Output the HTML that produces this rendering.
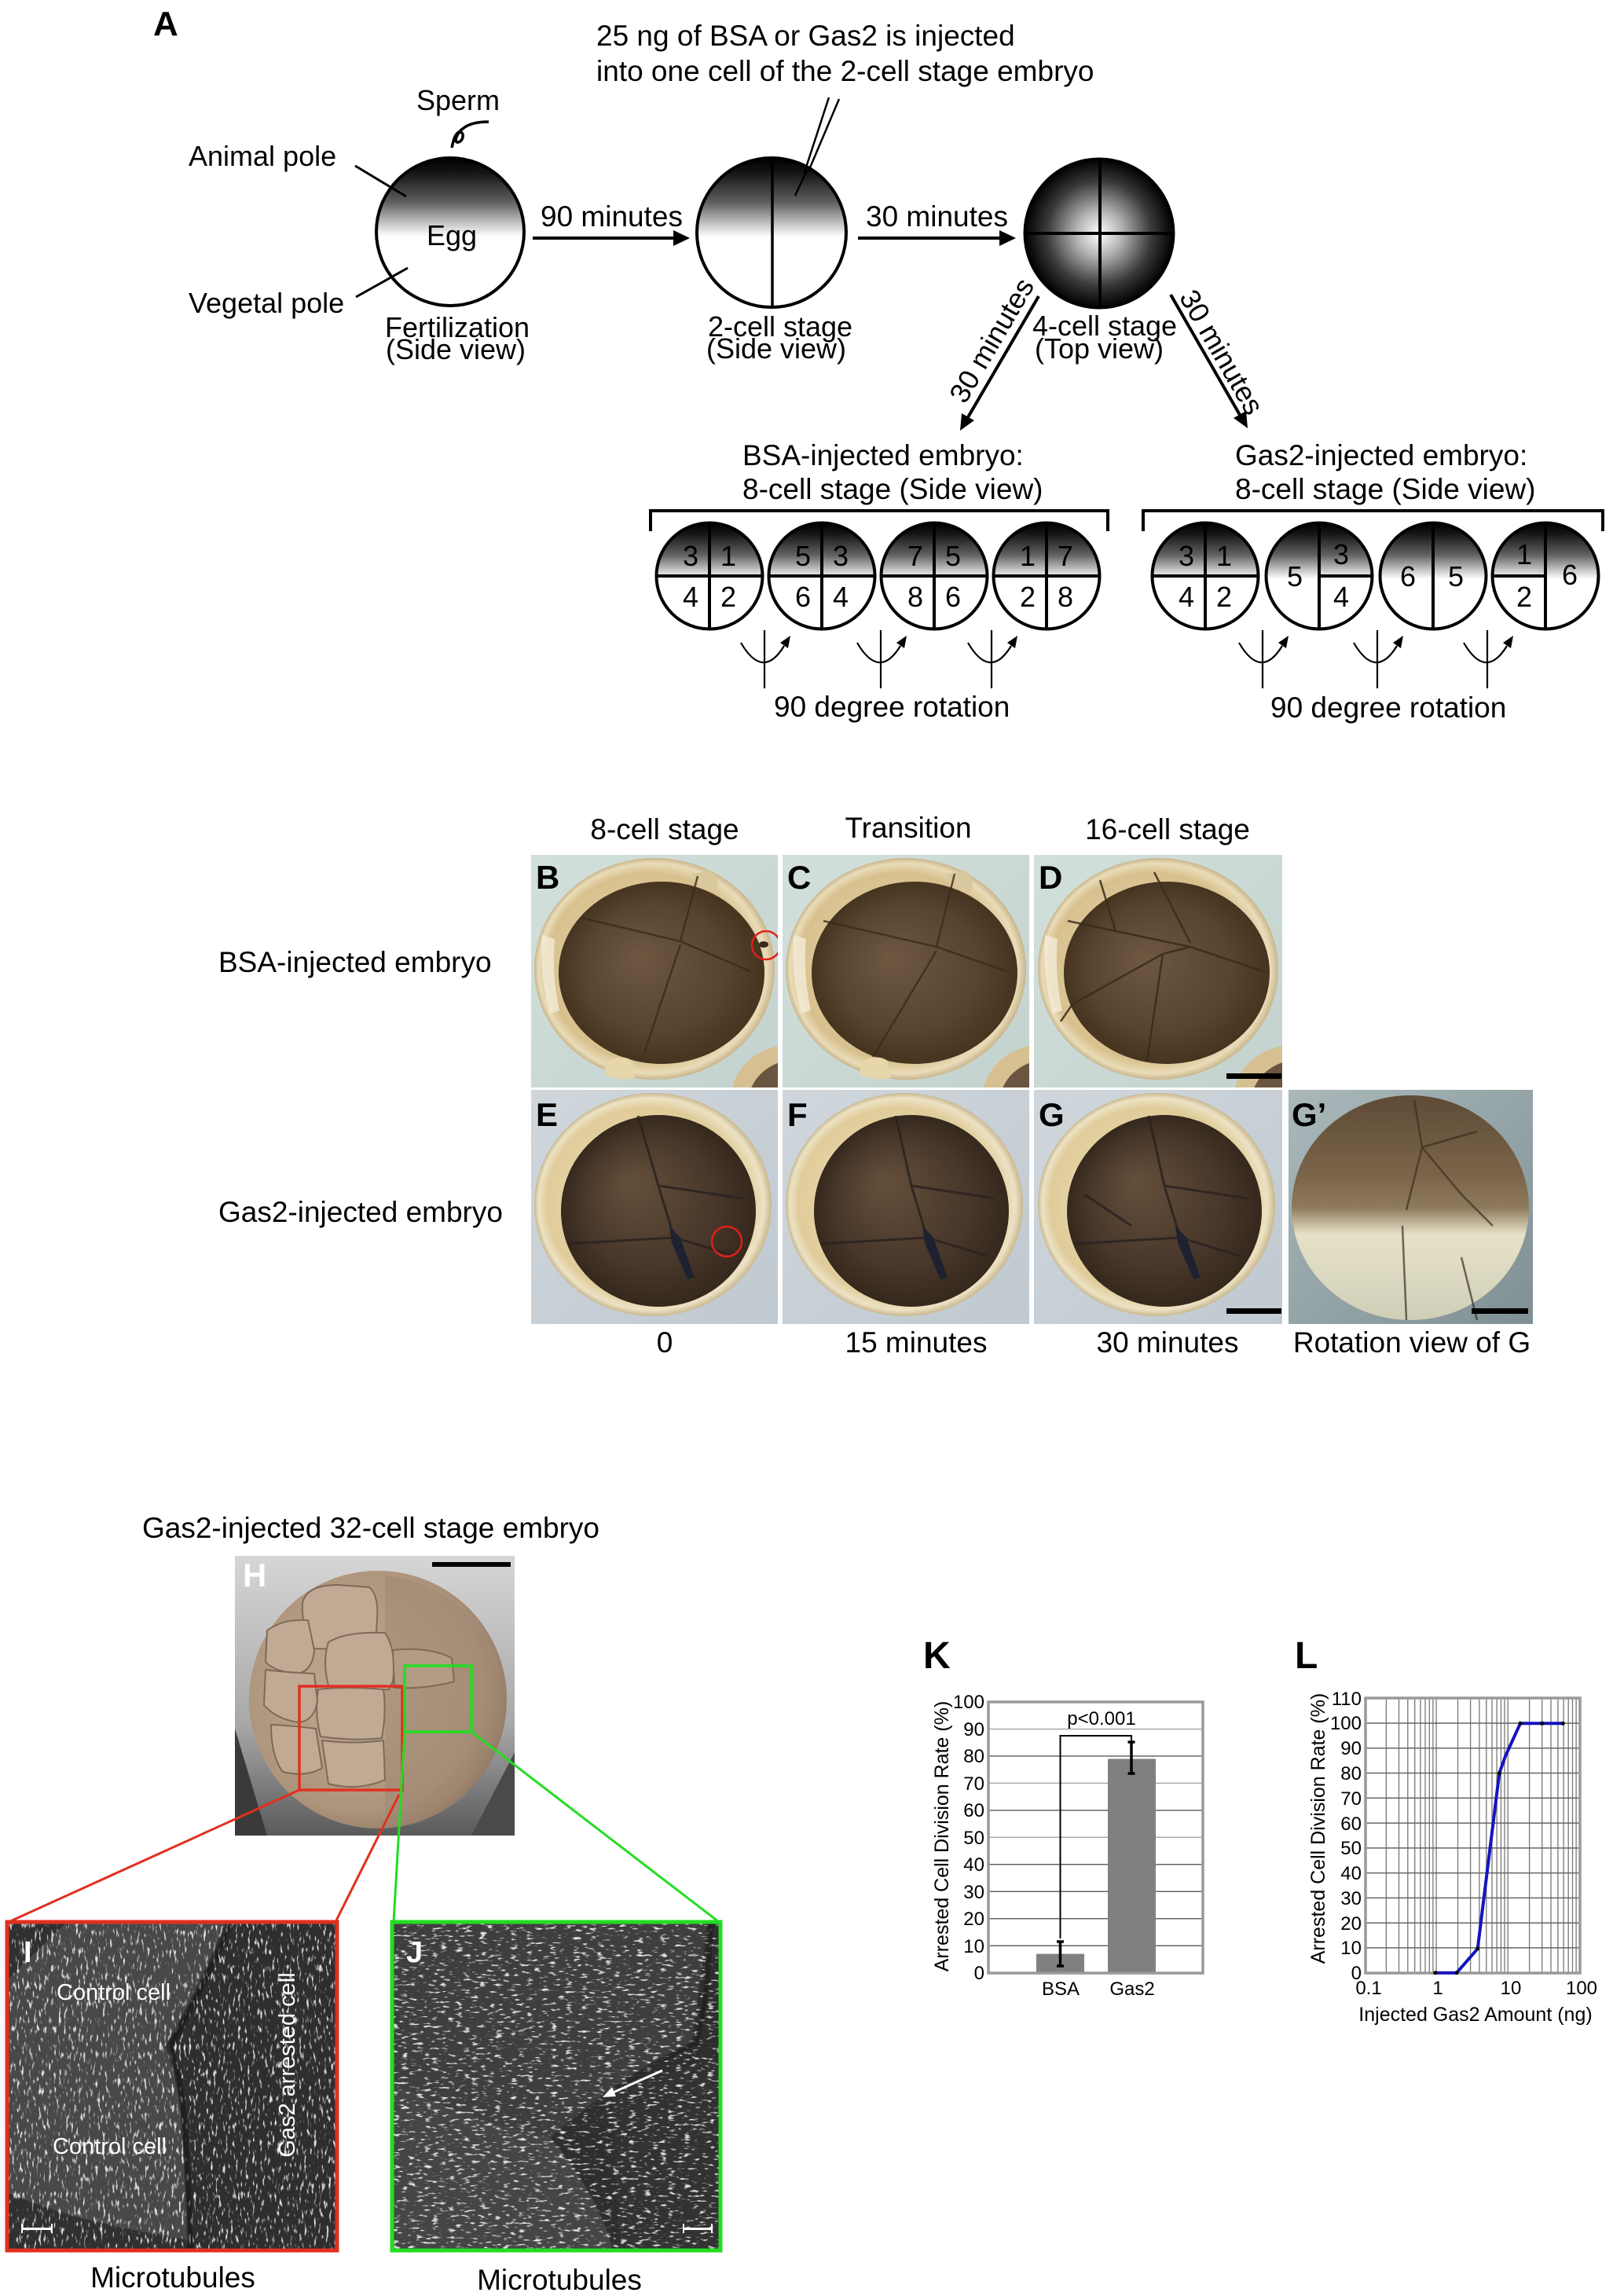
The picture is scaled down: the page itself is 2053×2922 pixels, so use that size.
<!DOCTYPE html>
<html><head><meta charset="utf-8"><style>
html,body{margin:0;padding:0;background:#fff;}
body{width:2053px;height:2922px;overflow:hidden;}
svg{display:block;}
</style></head><body>
<svg width="2053" height="2922" viewBox="0 0 2053 2922" xmlns="http://www.w3.org/2000/svg" font-family="'Liberation Sans', Arial, sans-serif">
<defs>
<linearGradient id="gTop" x1="0" y1="0" x2="0" y2="1">
<stop offset="0" stop-color="#000"/><stop offset="0.1" stop-color="#151515"/><stop offset="0.3" stop-color="#606060"/><stop offset="0.45" stop-color="#cacaca"/><stop offset="0.53" stop-color="#fff"/><stop offset="1" stop-color="#fff"/>
</linearGradient>
<radialGradient id="g4" cx="0.5" cy="0.5" r="0.5">
<stop offset="0" stop-color="#fff"/><stop offset="0.3" stop-color="#b5b5b5"/><stop offset="0.7" stop-color="#3a3a3a"/><stop offset="1" stop-color="#000"/>
</radialGradient>
<radialGradient id="rim" cx="0.5" cy="0.5" r="0.5" fx="0.35" fy="0.45">
<stop offset="0" stop-color="#e8d8ae"/><stop offset="0.85" stop-color="#d8c08e"/><stop offset="0.95" stop-color="#e9dcb8"/><stop offset="1" stop-color="#c9b58c"/>
</radialGradient>
<radialGradient id="rimE" cx="0.5" cy="0.5" r="0.5" fx="0.35" fy="0.45">
<stop offset="0" stop-color="#efe2b8"/><stop offset="0.85" stop-color="#e0cc9a"/><stop offset="0.95" stop-color="#ece2c4"/><stop offset="1" stop-color="#c9b890"/>
</radialGradient>
<radialGradient id="darkB" cx="0.5" cy="0.5" r="0.5" fx="0.38" fy="0.42">
<stop offset="0" stop-color="#6e5842"/><stop offset="0.7" stop-color="#574330"/><stop offset="1" stop-color="#46341f"/>
</radialGradient>
<radialGradient id="darkE" cx="0.5" cy="0.5" r="0.5" fx="0.35" fy="0.35">
<stop offset="0" stop-color="#65503b"/><stop offset="0.7" stop-color="#47362a"/><stop offset="1" stop-color="#35281c"/>
</radialGradient>
<linearGradient id="bgB" x1="0" y1="0" x2="1" y2="1"><stop offset="0" stop-color="#d2e0dc"/><stop offset="1" stop-color="#c3d2ce"/></linearGradient>
<linearGradient id="bgE" x1="0" y1="0" x2="1" y2="1"><stop offset="0" stop-color="#cfd7dd"/><stop offset="1" stop-color="#c0c9cf"/></linearGradient>
<linearGradient id="gGp" x1="0" y1="0" x2="0" y2="1">
<stop offset="0" stop-color="#5e4b36"/><stop offset="0.35" stop-color="#7a6449"/><stop offset="0.5" stop-color="#8e7a5c"/><stop offset="0.62" stop-color="#e6e2c8"/><stop offset="1" stop-color="#cfcfb8"/>
</linearGradient>
<linearGradient id="bgGp" x1="0" y1="0" x2="1" y2="1"><stop offset="0" stop-color="#aab8ba"/><stop offset="1" stop-color="#7f9094"/></linearGradient>
<linearGradient id="bgH" x1="0" y1="0" x2="0" y2="1"><stop offset="0" stop-color="#d6d6d6"/><stop offset="0.6" stop-color="#a8a8a8"/><stop offset="1" stop-color="#5a5a5a"/></linearGradient>
<radialGradient id="embH" cx="0.42" cy="0.45" r="0.6"><stop offset="0" stop-color="#bfa98f"/><stop offset="0.8" stop-color="#ad947c"/><stop offset="1" stop-color="#937b66"/></radialGradient>
<filter id="tex" x="0" y="0" width="1" height="1">
<feTurbulence type="fractalNoise" baseFrequency="0.32 0.09" numOctaves="2" seed="7" result="n"/>
<feColorMatrix in="n" type="matrix" values="0 0 0 0 1  0 0 0 0 1  0 0 0 0 1  6 0 0 0 -3.5"/>
</filter>
<filter id="tex2" x="0" y="0" width="1" height="1">
<feTurbulence type="fractalNoise" baseFrequency="0.1 0.32" numOctaves="2" seed="13" result="n"/>
<feColorMatrix in="n" type="matrix" values="0 0 0 0 1  0 0 0 0 1  0 0 0 0 1  6 0 0 0 -3.5"/>
</filter>
<clipPath id="cB"><rect x="676" y="1088" width="314" height="296"/></clipPath>
<clipPath id="cC"><rect x="996" y="1088" width="314" height="296"/></clipPath>
<clipPath id="cD"><rect x="1316" y="1088" width="316" height="296"/></clipPath>
<clipPath id="cE"><rect x="676" y="1387" width="314" height="298"/></clipPath>
<clipPath id="cF"><rect x="996" y="1387" width="314" height="298"/></clipPath>
<clipPath id="cG"><rect x="1316" y="1387" width="316" height="298"/></clipPath>
<clipPath id="cGp"><rect x="1640" y="1387" width="311" height="298"/></clipPath>
<clipPath id="cH"><rect x="299" y="1980" width="356" height="356"/></clipPath>
<clipPath id="cI"><rect x="9" y="2446" width="420" height="418"/></clipPath>
<clipPath id="cJ"><rect x="499" y="2446" width="418" height="418"/></clipPath>
</defs>

<rect x="0" y="0" width="2053" height="2922" fill="#fff"/>

<!-- ================= PANEL A ================= -->
<text x="195" y="45" font-size="44" font-weight="bold">A</text>
<text x="759" y="58" font-size="37">25 ng of BSA or Gas2 is injected</text>
<text x="759" y="103" font-size="37">into one cell of the 2-cell stage embryo</text>
<text x="530" y="140" font-size="36">Sperm</text>
<path d="M622,155 Q600,155 590,163 C581,169 577,182 583,181 C590,180 592,167 584,168 C578,172 577,180 575,188" fill="none" stroke="#000" stroke-width="3.5"/>
<text x="240" y="211" font-size="36">Animal pole</text>
<text x="240" y="398" font-size="36">Vegetal pole</text>

<!-- Egg -->
<circle cx="573" cy="295" r="94" fill="url(#gTop)" stroke="#000" stroke-width="4"/>
<line x1="452" y1="211" x2="517" y2="250" stroke="#000" stroke-width="3"/>
<line x1="453" y1="378" x2="519" y2="341" stroke="#000" stroke-width="3"/>
<text x="575" y="312" font-size="36" text-anchor="middle">Egg</text>
<text x="582" y="429" font-size="36" text-anchor="middle">Fertilization</text>
<text x="580" y="457" font-size="36" text-anchor="middle">(Side view)</text>

<!-- arrow 1 -->
<line x1="678" y1="303" x2="860" y2="303" stroke="#000" stroke-width="4"/>
<polygon points="878,303 857,293 857,313" fill="#000"/>
<text x="688" y="288" font-size="37">90 minutes</text>

<!-- 2-cell -->
<circle cx="982" cy="296" r="95" fill="url(#gTop)" stroke="#000" stroke-width="4"/>
<line x1="983" y1="201" x2="983" y2="391" stroke="#000" stroke-width="3.5"/>
<line x1="1055" y1="124" x2="1024" y2="219" stroke="#000" stroke-width="2.5"/>
<line x1="1068" y1="126" x2="1029" y2="218" stroke="#000" stroke-width="2.5"/>
<line x1="1027" y1="217" x2="1012" y2="249" stroke="#000" stroke-width="2.5"/>
<text x="993" y="428" font-size="36" text-anchor="middle">2-cell stage</text>
<text x="988" y="456" font-size="36" text-anchor="middle">(Side view)</text>

<!-- arrow 2 -->
<line x1="1092" y1="303" x2="1275" y2="303" stroke="#000" stroke-width="4"/>
<polygon points="1293,303 1272,293 1272,313" fill="#000"/>
<text x="1102" y="288" font-size="37">30 minutes</text>

<!-- 4-cell -->
<circle cx="1399" cy="297" r="95" fill="url(#g4)" stroke="#000" stroke-width="3"/>
<line x1="1400" y1="202" x2="1400" y2="392" stroke="#000" stroke-width="4"/>
<line x1="1304" y1="297" x2="1494" y2="297" stroke="#000" stroke-width="4"/>
<text x="1406" y="427" font-size="36" text-anchor="middle">4-cell stage</text>
<text x="1399" y="456" font-size="36" text-anchor="middle">(Top view)</text>

<!-- diagonal arrows -->
<line x1="1322" y1="377" x2="1232" y2="531" stroke="#000" stroke-width="4"/>
<polygon points="1222,548 1240,535 1224,526" fill="#000"/>
<text transform="translate(1262,433) rotate(-59.7)" font-size="36" text-anchor="middle" dominant-baseline="central">30 minutes</text>
<line x1="1490" y1="375" x2="1578" y2="528" stroke="#000" stroke-width="4"/>
<polygon points="1588,545 1586,523 1570,532" fill="#000"/>
<text transform="translate(1555,448) rotate(60)" font-size="36" text-anchor="middle" dominant-baseline="central">30 minutes</text>

<!-- 8-cell headings -->
<text x="945" y="592" font-size="37">BSA-injected embryo:</text>
<text x="945" y="635" font-size="37">8-cell stage (Side view)</text>
<text x="1572" y="592" font-size="37">Gas2-injected embryo:</text>
<text x="1572" y="635" font-size="37">8-cell stage (Side view)</text>
<path d="M828,676 V650 H1410 V676" fill="none" stroke="#000" stroke-width="4"/>
<path d="M1455,676 V650 H2040 V676" fill="none" stroke="#000" stroke-width="4"/>

<!-- BSA circles -->
<g stroke="#000" stroke-width="4">
<circle cx="903" cy="733" r="67.5" fill="url(#gTop)"/>
<circle cx="1046" cy="733" r="67.5" fill="url(#gTop)"/>
<circle cx="1189" cy="733" r="67.5" fill="url(#gTop)"/>
<circle cx="1332" cy="733" r="67.5" fill="url(#gTop)"/>
<line x1="903" y1="665" x2="903" y2="801"/><line x1="835" y1="733" x2="971" y2="733"/>
<line x1="1046" y1="665" x2="1046" y2="801"/><line x1="978" y1="733" x2="1114" y2="733"/>
<line x1="1189" y1="665" x2="1189" y2="801"/><line x1="1121" y1="733" x2="1257" y2="733"/>
<line x1="1332" y1="665" x2="1332" y2="801"/><line x1="1264" y1="733" x2="1400" y2="733"/>
</g>
<g font-size="36" text-anchor="middle">
<text x="879" y="720">3</text><text x="927" y="720">1</text><text x="879" y="772">4</text><text x="927" y="772">2</text>
<text x="1022" y="720">5</text><text x="1070" y="720">3</text><text x="1022" y="772">6</text><text x="1070" y="772">4</text>
<text x="1165" y="720">7</text><text x="1213" y="720">5</text><text x="1165" y="772">8</text><text x="1213" y="772">6</text>
<text x="1308" y="720">1</text><text x="1356" y="720">7</text><text x="1308" y="772">2</text><text x="1356" y="772">8</text>
</g>

<!-- Gas2 circles -->
<g stroke="#000" stroke-width="4">
<circle cx="1534" cy="733" r="67.5" fill="url(#gTop)"/>
<circle cx="1679" cy="733" r="67.5" fill="url(#gTop)"/>
<circle cx="1824" cy="733" r="67.5" fill="url(#gTop)"/>
<circle cx="1967" cy="733" r="67.5" fill="url(#gTop)"/>
<line x1="1534" y1="665" x2="1534" y2="801"/><line x1="1466" y1="733" x2="1602" y2="733"/>
<line x1="1679" y1="665" x2="1679" y2="801"/><line x1="1679" y1="733" x2="1747" y2="733"/>
<line x1="1824" y1="665" x2="1824" y2="801"/>
<line x1="1967" y1="665" x2="1967" y2="801"/><line x1="1899" y1="733" x2="1967" y2="733"/>
</g>
<g font-size="36" text-anchor="middle">
<text x="1510" y="720">3</text><text x="1558" y="720">1</text><text x="1510" y="772">4</text><text x="1558" y="772">2</text>
<text x="1648" y="746">5</text><text x="1707" y="718">3</text><text x="1707" y="772">4</text>
<text x="1792" y="746">6</text><text x="1853" y="746">5</text>
<text x="1940" y="718">1</text><text x="1940" y="772">2</text><text x="1998" y="744">6</text>
</g>

<!-- rotation symbols -->
<g fill="none" stroke="#000" stroke-width="2.2">
<path d="M973,802 V876 M943,818 Q971,866 998,822"/>
<path d="M1121,802 V876 M1091,818 Q1119,866 1146,822"/>
<path d="M1262,802 V876 M1232,818 Q1260,866 1287,822"/>
<path d="M1607,802 V876 M1577,818 Q1605,866 1632,822"/>
<path d="M1753,802 V876 M1723,818 Q1751,866 1778,822"/>
<path d="M1893,802 V876 M1863,818 Q1891,866 1918,822"/>
</g>
<g fill="#000">
<polygon points="1006,809 1003,825 993,818"/>
<polygon points="1154,809 1151,825 1141,818"/>
<polygon points="1295,809 1292,825 1282,818"/>
<polygon points="1640,809 1637,825 1627,818"/>
<polygon points="1786,809 1783,825 1773,818"/>
<polygon points="1926,809 1923,825 1913,818"/>
</g>
<text x="985" y="912" font-size="37">90 degree rotation</text>
<text x="1617" y="913" font-size="37">90 degree rotation</text>

<!-- ================= PHOTOS B-G' ================= -->
<text x="846" y="1068" font-size="37" text-anchor="middle">8-cell stage</text>
<text x="1156" y="1066" font-size="37" text-anchor="middle">Transition</text>
<text x="1486" y="1068" font-size="37" text-anchor="middle">16-cell stage</text>
<text x="278" y="1237" font-size="37">BSA-injected embryo</text>
<text x="278" y="1555" font-size="37">Gas2-injected embryo</text>

<!-- B -->
<g clip-path="url(#cB)">
<rect x="676" y="1088" width="314" height="296" fill="url(#bgB)"/>
<ellipse cx="1005" cy="1400" rx="75" ry="70" fill="#d6c092"/><ellipse cx="1012" cy="1405" rx="60" ry="56" fill="#6a5540"/>
<ellipse cx="833" cy="1233" rx="153" ry="141" fill="url(#rim)"/>
<path d="M690,1190 Q686,1240 700,1290 L712,1286 Q702,1240 706,1195 Z" fill="#f3ecd8" opacity="0.8"/>
<ellipse cx="842" cy="1238" rx="131" ry="116" fill="url(#darkB)"/>
<path d="M880,1112 L905,1108 Q918,1120 912,1135 L890,1130 Z" fill="#d9c89e"/>
<path d="M770,1352 Q790,1340 805,1350 L808,1372 Q788,1376 770,1368 Z" fill="#e6d6aa"/>
<g fill="none" stroke="#3a2a1a" stroke-width="2.5" opacity="0.8">
<path d="M888,1115 L866,1198 M740,1168 L866,1198 L955,1236 M866,1202 L820,1340"/>
</g>
<circle cx="975" cy="1203" r="18" fill="none" stroke="#e0201a" stroke-width="2.5"/>
<ellipse cx="972" cy="1202" rx="6" ry="4" fill="#3a2a1c"/>
</g>
<text x="682" y="1131" font-size="42" font-weight="bold">B</text>

<!-- C -->
<g clip-path="url(#cC)">
<rect x="996" y="1088" width="314" height="296" fill="url(#bgB)"/>
<ellipse cx="1325" cy="1400" rx="75" ry="70" fill="#d6c092"/><ellipse cx="1332" cy="1405" rx="60" ry="56" fill="#6a5540"/>
<ellipse cx="1153" cy="1233" rx="153" ry="141" fill="url(#rim)"/>
<path d="M1010,1190 Q1006,1240 1020,1290 L1032,1286 Q1022,1240 1026,1195 Z" fill="#f3ecd8" opacity="0.8"/>
<ellipse cx="1164" cy="1238" rx="131" ry="116" fill="url(#darkB)"/>
<path d="M1205,1112 L1230,1108 Q1242,1120 1236,1135 L1212,1130 Z" fill="#d9c89e"/>
<path d="M1095,1352 Q1115,1340 1130,1350 L1133,1372 Q1113,1376 1095,1368 Z" fill="#e6d6aa"/>
<g fill="none" stroke="#3a2a1a" stroke-width="2.5" opacity="0.8">
<path d="M1215,1112 L1192,1205 M1048,1172 L1192,1205 L1284,1237 M1192,1210 L1111,1345"/>
</g>
</g>
<text x="1002" y="1131" font-size="42" font-weight="bold">C</text>

<!-- D -->
<g clip-path="url(#cD)">
<rect x="1316" y="1088" width="316" height="296" fill="url(#bgB)"/>
<ellipse cx="1645" cy="1400" rx="75" ry="70" fill="#d6c092"/><ellipse cx="1652" cy="1405" rx="60" ry="56" fill="#6a5540"/>
<ellipse cx="1474" cy="1233" rx="153" ry="141" fill="url(#rim)"/>
<path d="M1330,1190 Q1326,1240 1340,1290 L1352,1286 Q1342,1240 1346,1195 Z" fill="#f3ecd8" opacity="0.8"/>
<ellipse cx="1485" cy="1238" rx="131" ry="116" fill="url(#darkB)"/>
<g fill="none" stroke="#3a2a1a" stroke-width="2.5" opacity="0.85">
<path d="M1469,1110 L1515,1200 M1359,1172 L1515,1205 L1610,1237 M1480,1214 L1365,1278 L1350,1300 M1515,1205 L1480,1214 L1460,1350 M1400,1120 L1420,1185"/>
</g>
<rect x="1561" y="1366" width="70" height="7" fill="#000"/>
</g>
<text x="1322" y="1131" font-size="42" font-weight="bold">D</text>

<!-- E -->
<g clip-path="url(#cE)">
<rect x="676" y="1387" width="314" height="298" fill="url(#bgE)"/>
<ellipse cx="831" cy="1533" rx="151" ry="142" fill="url(#rimE)"/>
<ellipse cx="838" cy="1541" rx="124" ry="122" fill="url(#darkE)"/>
<g fill="none" stroke="#2a2220" stroke-width="3" opacity="0.85">
<path d="M812,1420 L838,1509 L858,1575 M722,1583 L858,1575 L935,1598 M858,1575 L880,1625 M838,1509 L945,1525"/>
</g>
<path d="M852,1560 L866,1575 L884,1626 L875,1628 L855,1582 Z" fill="#1e2230"/>
<circle cx="925" cy="1580" r="19" fill="none" stroke="#e0201a" stroke-width="2.5"/>
</g>
<text x="682" y="1433" font-size="42" font-weight="bold">E</text>

<!-- F -->
<g clip-path="url(#cF)">
<rect x="996" y="1387" width="314" height="298" fill="url(#bgE)"/>
<ellipse cx="1151" cy="1533" rx="151" ry="142" fill="url(#rimE)"/>
<ellipse cx="1160" cy="1541" rx="124" ry="122" fill="url(#darkE)"/>
<g fill="none" stroke="#2a2220" stroke-width="3" opacity="0.85">
<path d="M1140,1420 L1160,1509 L1180,1575 M1045,1583 L1180,1575 L1255,1598 M1180,1575 L1200,1628 M1160,1509 L1265,1525"/>
</g>
<path d="M1174,1560 L1188,1575 L1206,1626 L1197,1628 L1177,1582 Z" fill="#1e2230"/>
</g>
<text x="1002" y="1433" font-size="42" font-weight="bold">F</text>

<!-- G -->
<g clip-path="url(#cG)">
<rect x="1316" y="1387" width="316" height="298" fill="url(#bgE)"/>
<ellipse cx="1472" cy="1533" rx="151" ry="142" fill="url(#rimE)"/>
<ellipse cx="1482" cy="1541" rx="124" ry="122" fill="url(#darkE)"/>
<g fill="none" stroke="#2a2220" stroke-width="3" opacity="0.85">
<path d="M1462,1420 L1482,1509 L1502,1575 M1367,1583 L1502,1575 L1577,1598 M1502,1575 L1522,1628 M1482,1509 L1587,1525 M1380,1520 L1440,1560"/>
</g>
<path d="M1496,1560 L1510,1575 L1528,1626 L1519,1628 L1499,1582 Z" fill="#1e2230"/>
<rect x="1561" y="1665" width="70" height="7" fill="#000"/>
</g>
<text x="1322" y="1433" font-size="42" font-weight="bold">G</text>

<!-- G' -->
<g clip-path="url(#cGp)">
<rect x="1640" y="1387" width="311" height="298" fill="url(#bgGp)"/>
<ellipse cx="1795" cy="1537" rx="151" ry="143" fill="url(#gGp)"/>
<g fill="none" stroke="#3a2e22" stroke-width="2.5" opacity="0.7">
<path d="M1800,1400 L1810,1460 L1790,1540 M1810,1460 L1880,1440 M1810,1460 L1860,1520 L1900,1560 M1785,1560 L1790,1680 M1860,1600 L1880,1680"/>
</g>
<rect x="1873" y="1665" width="72" height="7" fill="#000"/>
</g>
<text x="1644" y="1433" font-size="42" font-weight="bold">G’</text>

<text x="846" y="1721" font-size="37" text-anchor="middle">0</text>
<text x="1166" y="1721" font-size="37" text-anchor="middle">15 minutes</text>
<text x="1486" y="1721" font-size="37" text-anchor="middle">30 minutes</text>
<text x="1797" y="1721" font-size="37" text-anchor="middle">Rotation view of G</text>

<!-- ================= H I J ================= -->
<text x="181" y="1957" font-size="37">Gas2-injected 32-cell stage embryo</text>
<g clip-path="url(#cH)">
<rect x="299" y="1980" width="356" height="356" fill="url(#bgH)"/>
<path d="M299,2200 L340,2336 L299,2336 Z" fill="#3a3a3a"/>
<path d="M655,2230 L600,2336 L655,2336 Z" fill="#4a4a4a"/>
<circle cx="481" cy="2163" r="164" fill="url(#embH)"/>
<path d="M490,2005 A158,158 0 0,1 490,2320 Z" fill="#9c8570" opacity="0.45"/>
<g fill="#c1aa93" stroke="#7d6a58" stroke-width="2">
<path d="M385,2040 Q390,2017 430,2017 L470,2020 Q482,2030 480,2060 L478,2090 Q440,2100 400,2098 Q383,2070 385,2040 Z"/>
<path d="M418,2090 Q440,2076 490,2078 Q505,2100 500,2140 L495,2150 Q450,2152 418,2145 Q410,2115 418,2090 Z"/>
<path d="M405,2150 Q440,2146 488,2150 Q492,2180 486,2212 Q450,2216 408,2210 Q400,2180 405,2150 Z"/>
<path d="M340,2075 Q360,2060 392,2062 L400,2100 Q398,2125 380,2130 Q350,2128 338,2115 Z"/>
<path d="M338,2125 Q360,2128 400,2130 L404,2165 Q400,2190 380,2192 Q352,2188 336,2170 Z"/>
<path d="M345,2195 Q372,2196 402,2200 L410,2250 Q390,2262 360,2255 Q345,2235 345,2195 Z"/>
<path d="M410,2215 Q450,2220 488,2215 L490,2265 Q455,2280 418,2270 Z"/>
<path d="M500,2100 Q545,2095 575,2110 L578,2140 Q540,2150 502,2148 Z" fill="#b39c84"/>
</g>
<rect x="381" y="2146" width="131" height="132" fill="none" stroke="#e03020" stroke-width="3.5"/>
<rect x="515" y="2120" width="85" height="84" fill="none" stroke="#22dd22" stroke-width="3.5"/>
<rect x="550" y="1988" width="100" height="6" fill="#000"/>
</g>
<text x="309" y="2019" font-size="42" font-weight="bold" fill="#fff">H</text>

<!-- connector lines -->
<line x1="381" y1="2278" x2="11" y2="2446" stroke="#e03020" stroke-width="3"/>
<line x1="508" y1="2284" x2="427" y2="2446" stroke="#e03020" stroke-width="3"/>
<line x1="515" y1="2204" x2="501" y2="2446" stroke="#22dd22" stroke-width="3"/>
<line x1="600" y1="2204" x2="915" y2="2446" stroke="#22dd22" stroke-width="3"/>

<!-- I -->
<g clip-path="url(#cI)">
<rect x="9" y="2446" width="420" height="418" fill="#262626"/>
<path d="M9,2446 L292,2446 Q260,2520 215,2600 Q225,2640 230,2680 Q238,2770 240,2864 L9,2864 Z" fill="#484848"/>
<path d="M300,2446 L429,2446 L429,2864 L245,2864 Q240,2760 235,2680 Q228,2640 222,2605 Q268,2520 300,2446 Z" fill="#2e2e2e"/>
<path d="M9,2520 Q60,2470 85,2446 L9,2446 Z" fill="#303030"/>
<path d="M9,2790 Q100,2830 240,2850 L240,2864 L9,2864 Z" fill="#303030"/>
<rect x="9" y="2446" width="420" height="418" filter="url(#tex)" opacity="0.85"/>
<path d="M292,2446 Q262,2520 215,2605 Q228,2640 234,2690 Q240,2770 242,2864" fill="none" stroke="#151515" stroke-width="8" opacity="0.5"/>
<rect x="27" y="2835" width="40" height="3" fill="#fff"/>
<rect x="27" y="2830" width="2" height="12" fill="#fff"/><rect x="65" y="2830" width="2" height="12" fill="#fff"/>
</g>
<rect x="9" y="2446" width="420" height="418" fill="none" stroke="#e03020" stroke-width="5"/>
<text x="30" y="2497" font-size="38" font-weight="bold" fill="#fff">I</text>
<text x="72" y="2545" font-size="29" fill="#fff">Control cell</text>
<text x="67" y="2741" font-size="29" fill="#fff">Control cell</text>
<text transform="translate(366,2628) rotate(-90)" font-size="29" fill="#fff" text-anchor="middle" dominant-baseline="central">Gas2 arrested cell</text>

<!-- J -->
<g clip-path="url(#cJ)">
<rect x="499" y="2446" width="418" height="418" fill="#2e2e2e"/>
<path d="M499,2446 L900,2446 Q890,2540 880,2600 Q820,2640 765,2669 Q720,2700 660,2760 Q600,2790 499,2780 Z" fill="#3e3e3e"/>
<path d="M499,2650 Q600,2700 700,2720 Q760,2790 780,2864 L499,2864 Z" fill="#454545"/>
<path d="M780,2669 Q830,2640 917,2620 L917,2864 L790,2864 Q780,2760 780,2669 Z" fill="#323232"/>
<rect x="499" y="2446" width="418" height="418" filter="url(#tex2)" opacity="0.85"/>
<path d="M905,2446 Q900,2560 885,2600 Q830,2625 770,2668" fill="none" stroke="#151515" stroke-width="6" opacity="0.5"/>
<line x1="843" y1="2635" x2="778" y2="2664" stroke="#fff" stroke-width="3"/>
<polygon points="767,2669 779,2656 784,2668" fill="#fff"/>
<rect x="869" y="2835" width="38" height="3" fill="#fff"/>
<rect x="869" y="2830" width="2" height="12" fill="#fff"/><rect x="905" y="2830" width="2" height="12" fill="#fff"/>
</g>
<rect x="499" y="2446" width="418" height="418" fill="none" stroke="#22dd22" stroke-width="5"/>
<text x="517" y="2497" font-size="38" font-weight="bold" fill="#fff">J</text>

<text x="220" y="2911" font-size="37" text-anchor="middle">Microtubules</text>
<text x="712" y="2914" font-size="37" text-anchor="middle">Microtubules</text>

<!-- ================= K ================= -->
<text x="1175" y="2123" font-size="48" font-weight="bold">K</text>
<g stroke-width="1.5">
<line x1="1259" y1="2476.2" x2="1530" y2="2476.2" stroke="#666"/>
<line x1="1259" y1="2441.8" x2="1530" y2="2441.8" stroke="#666"/>
<line x1="1259" y1="2407.3" x2="1530" y2="2407.3" stroke="#666"/>
<line x1="1259" y1="2372.8" x2="1530" y2="2372.8" stroke="#666"/>
<line x1="1259" y1="2338.3" x2="1530" y2="2338.3" stroke="#aaa"/>
<line x1="1259" y1="2303.9" x2="1530" y2="2303.9" stroke="#666"/>
<line x1="1259" y1="2269.4" x2="1530" y2="2269.4" stroke="#aaa"/>
<line x1="1259" y1="2234.9" x2="1530" y2="2234.9" stroke="#666"/>
<line x1="1259" y1="2200.5" x2="1530" y2="2200.5" stroke="#aaa"/>
</g>
<rect x="1319" y="2486.6" width="61" height="24.1" fill="#808080"/>
<rect x="1410" y="2238.4" width="61" height="272.3" fill="#808080"/>
<rect x="1258" y="2166" width="273" height="345" fill="none" stroke="#999" stroke-width="3.5"/>
<path d="M1349.5,2467 V2209 H1440 V2217" fill="none" stroke="#000" stroke-width="2"/>
<g stroke="#000" stroke-width="3.5">
<line x1="1349.5" y1="2471" x2="1349.5" y2="2502"/><line x1="1345" y1="2471" x2="1354" y2="2471"/><line x1="1345" y1="2502" x2="1354" y2="2502"/>
<line x1="1440" y1="2217" x2="1440" y2="2257"/><line x1="1435.5" y1="2217" x2="1444.5" y2="2217"/><line x1="1435.5" y1="2257" x2="1444.5" y2="2257"/>
</g>
<text x="1402" y="2195" font-size="24" text-anchor="middle">p&lt;0.001</text>
<g font-size="24" text-anchor="end">
<text x="1253" y="2519">0</text><text x="1253" y="2485">10</text><text x="1253" y="2450">20</text><text x="1253" y="2416">30</text>
<text x="1253" y="2381">40</text><text x="1253" y="2347">50</text><text x="1253" y="2312">60</text><text x="1253" y="2278">70</text>
<text x="1253" y="2243">80</text><text x="1253" y="2209">90</text><text x="1253" y="2174">100</text>
</g>
<text x="1350" y="2539" font-size="24" text-anchor="middle">BSA</text>
<text x="1441" y="2539" font-size="24" text-anchor="middle">Gas2</text>
<text transform="translate(1199,2337) rotate(-90)" font-size="25" text-anchor="middle" dominant-baseline="central">Arrested Cell Division Rate (%)</text>

<!-- ================= L ================= -->
<text x="1648" y="2123" font-size="48" font-weight="bold">L</text>
<g stroke="#777" stroke-width="1.3">
<line x1="1764.4" y1="2161" x2="1764.4" y2="2511"/><line x1="1780.5" y1="2161" x2="1780.5" y2="2511"/>
<line x1="1791.8" y1="2161" x2="1791.8" y2="2511"/><line x1="1800.7" y1="2161" x2="1800.7" y2="2511"/>
<line x1="1807.9" y1="2161" x2="1807.9" y2="2511"/><line x1="1814" y1="2161" x2="1814" y2="2511"/>
<line x1="1819.3" y1="2161" x2="1819.3" y2="2511"/><line x1="1823.9" y1="2161" x2="1823.9" y2="2511"/>
<line x1="1828.1" y1="2161" x2="1828.1" y2="2511"/>
<line x1="1855.5" y1="2161" x2="1855.5" y2="2511"/><line x1="1871.6" y1="2161" x2="1871.6" y2="2511"/>
<line x1="1882.9" y1="2161" x2="1882.9" y2="2511"/><line x1="1891.8" y1="2161" x2="1891.8" y2="2511"/>
<line x1="1899" y1="2161" x2="1899" y2="2511"/><line x1="1905.1" y1="2161" x2="1905.1" y2="2511"/>
<line x1="1910.4" y1="2161" x2="1910.4" y2="2511"/><line x1="1915" y1="2161" x2="1915" y2="2511"/>
<line x1="1919.2" y1="2161" x2="1919.2" y2="2511"/>
<line x1="1946.6" y1="2161" x2="1946.6" y2="2511"/><line x1="1962.7" y1="2161" x2="1962.7" y2="2511"/>
<line x1="1974" y1="2161" x2="1974" y2="2511"/><line x1="1982.9" y1="2161" x2="1982.9" y2="2511"/>
<line x1="1990.1" y1="2161" x2="1990.1" y2="2511"/><line x1="1996.2" y1="2161" x2="1996.2" y2="2511"/>
<line x1="2001.5" y1="2161" x2="2001.5" y2="2511"/><line x1="2006.1" y1="2161" x2="2006.1" y2="2511"/>
</g>
<g stroke="#666" stroke-width="1.5">
<line x1="1737" y1="2478.9" x2="2011" y2="2478.9"/><line x1="1737" y1="2447.2" x2="2011" y2="2447.2"/>
<line x1="1737" y1="2415.4" x2="2011" y2="2415.4"/><line x1="1737" y1="2383.6" x2="2011" y2="2383.6"/>
<line x1="1737" y1="2351.9" x2="2011" y2="2351.9"/><line x1="1737" y1="2320.1" x2="2011" y2="2320.1"/>
<line x1="1737" y1="2288.3" x2="2011" y2="2288.3"/><line x1="1737" y1="2256.5" x2="2011" y2="2256.5"/>
<line x1="1737" y1="2224.8" x2="2011" y2="2224.8"/><line x1="1737" y1="2193" x2="2011" y2="2193"/>
</g>
<rect x="1738" y="2161" width="273" height="350" fill="none" stroke="#999" stroke-width="3.5"/>
<polyline points="1826.7,2510.7 1854,2510.7 1880.7,2480 1908.3,2256.7 1916,2235 1935,2193.3 1962.7,2193.3 1989.3,2193.3" fill="none" stroke="#1414c0" stroke-width="4" stroke-linejoin="round"/>
<g fill="#000">
<circle cx="1826.7" cy="2510.7" r="2.5"/><circle cx="1854" cy="2510.7" r="2.5"/><circle cx="1880.7" cy="2480" r="2.5"/>
<circle cx="1908.3" cy="2256.7" r="2.5"/><circle cx="1935" cy="2193.3" r="2.5"/><circle cx="1962.7" cy="2193.3" r="2.5"/><circle cx="1989.3" cy="2193.3" r="2.5"/>
</g>
<g font-size="24" text-anchor="end">
<text x="1733" y="2519">0</text><text x="1733" y="2487">10</text><text x="1733" y="2456">20</text><text x="1733" y="2424">30</text>
<text x="1733" y="2392">40</text><text x="1733" y="2360">50</text><text x="1733" y="2329">60</text><text x="1733" y="2297">70</text>
<text x="1733" y="2265">80</text><text x="1733" y="2233">90</text><text x="1733" y="2201">100</text><text x="1733" y="2170">110</text>
</g>
<g font-size="24" text-anchor="middle">
<text x="1742" y="2538">0.1</text><text x="1830" y="2538">1</text><text x="1923" y="2538">10</text><text x="2013" y="2538">100</text>
</g>
<text x="1878" y="2572" font-size="25" text-anchor="middle">Injected Gas2 Amount (ng)</text>
<text transform="translate(1678,2327) rotate(-90)" font-size="25" text-anchor="middle" dominant-baseline="central">Arrested Cell Division Rate (%)</text>
</svg>
</body></html>
